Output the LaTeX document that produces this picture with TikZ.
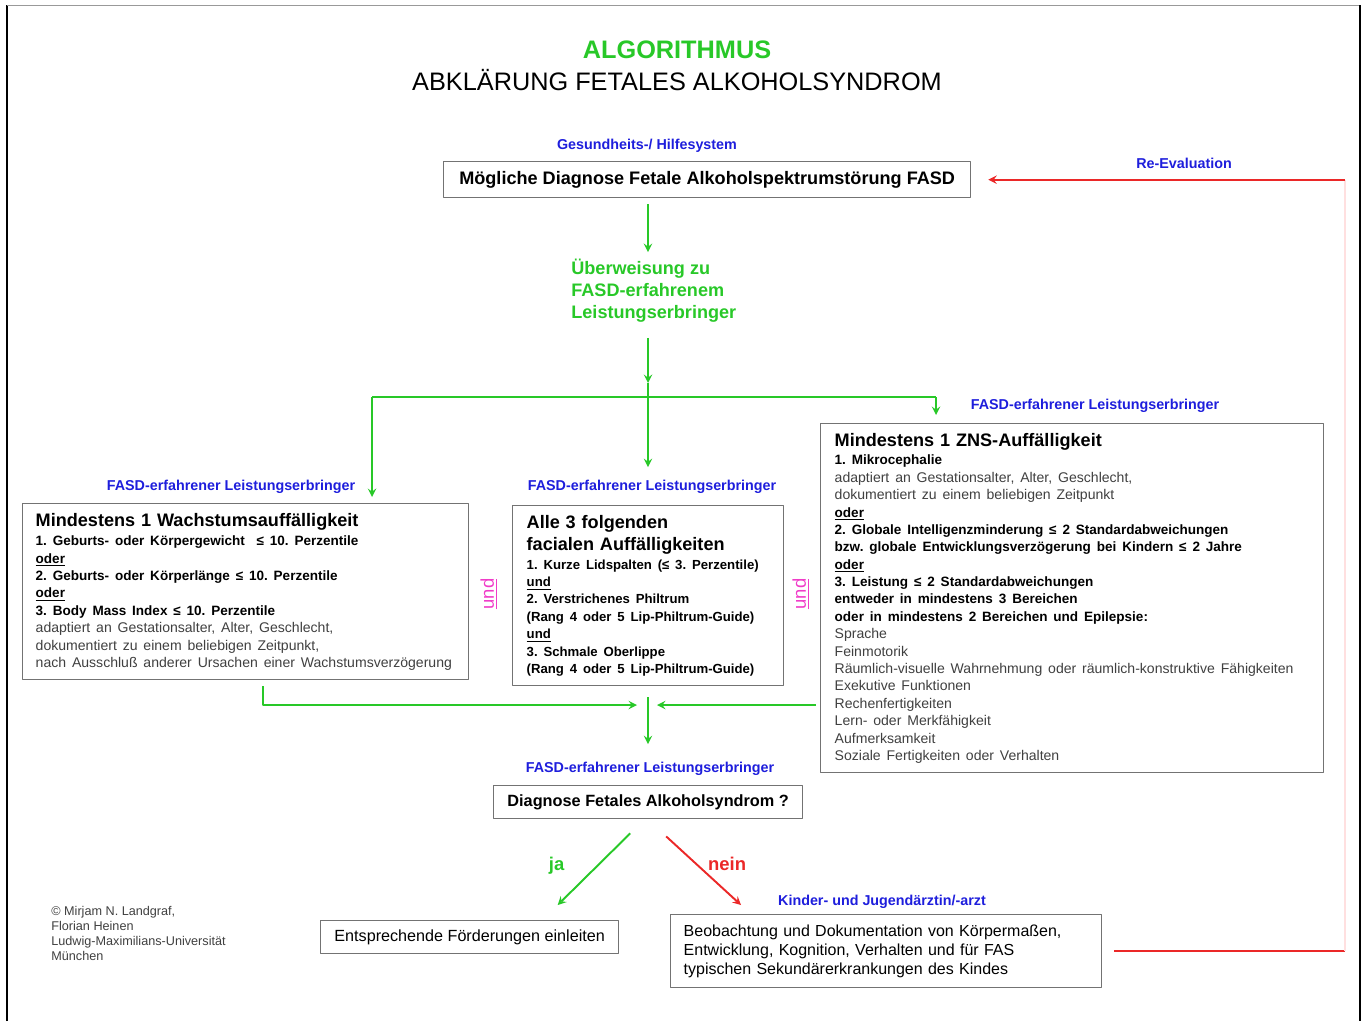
\documentclass[tikz,border=0pt]{standalone}
\usepackage{fontspec}
\setmainfont{Liberation Sans}
\usetikzlibrary{calc}
\definecolor{fgruen}{RGB}{40,200,40}
\definecolor{fblau}{RGB}{30,30,220}
\definecolor{frot}{RGB}{235,40,40}
\definecolor{fmagenta}{RGB}{240,60,200}
\newcommand\kopf{\fontsize{10.3}{12.5}\selectfont\bfseries}
\newcommand\zeile{\fontsize{7.7}{9.9}\selectfont\bfseries}
\newcommand\grau[1]{{\fontsize{8}{9.9}\selectfont\mdseries\color{black!75}#1}}
\begin{document}
\frenchspacing
\begin{tikzpicture}[x=0.02cm,y=-0.02cm,>=stealth,line join=round,
  box/.style={draw=black!55,line width=0.8pt,anchor=north west,inner ysep=0pt},
  blau/.style={text=fblau,font=\fontsize{8.15}{9}\selectfont\bfseries},
  gline/.style={draw=fgruen,line width=1.1pt},
  gpfeil/.style={gline,->},
  rpfeil/.style={draw=frot,line width=1.1pt,->},
  und/.style={text=fmagenta,font=\fontsize{10.5}{12}\selectfont,rotate=90}]
\useasboundingbox (0,0) rectangle (1364,1021);
% Rahmen
\draw[line width=1pt] (7,1021) -- (7,5);
\draw[black!40] (7,5) -- (1360,5);
\draw[line width=1pt] (1360,5) -- (1360,1021);
% Titel
\node[text=fgruen,font=\fontsize{14.4}{16}\selectfont\bfseries] (algo) at (677,50) {ALGORITHMUS};
\node[font=\fontsize{14.4}{16}\selectfont] (abkl) at (677,80) {ABKLÄRUNG FETALES ALKOHOLSYNDROM};
\coordinate (achse) at (648,0);
\coordinate (rand) at (1345,500);
% oben
\node[blau] (gesund) at (647,146) {Gesundheits-/ Hilfesystem};
\node[box,minimum width=10.54cm,minimum height=0.72cm,font=\fontsize{10.3}{12}\selectfont\bfseries] (moeglich) at (443,161) {Mögliche Diagnose Fetale Alkoholspektrumstörung FASD};
\node[blau] (reeval) at (1184,163) {Re-Evaluation};
\node[text=fgruen,font=\kopf,align=left,anchor=west,inner sep=0pt] (ueber) at (571,291) {Überweisung zu\\FASD-erfahrenem\\Leistungserbringer};
\draw[gpfeil,shorten <=0.12cm,shorten >=0.14cm] (moeglich.south -| achse) -- (ueber.north -| achse);
% Verteilung
\coordinate (bus) at (648,397);
\coordinate (busL) at (372,397);
\coordinate (busR) at (936,397);
\draw[gpfeil,shorten <=0.3cm] (ueber.south -| achse) -- ($(bus)+(0,-14)$);
\draw[gline] ($(bus)+(0,-14)$) -- (bus);
\draw[gline] (busL) -- (busR);
% drei Kriterien
\node[blau] (lblL) at (231,487) {FASD-erfahrener Leistungserbringer};
\node[blau] (lblM) at (652,487) {FASD-erfahrener Leistungserbringer};
\node[blau] (lblR) at (1095,406) {FASD-erfahrener Leistungserbringer};
\node[box,inner xsep=0.26cm,text width=8.4cm,minimum height=3.52cm,align=left] (wachstum) at (22,503) {%
{\kopf Mindestens 1 Wachstumsauffälligkeit\par}\vspace{1.3pt}
{\zeile 1. Geburts- oder Körpergewicht\ \ ≤ 10. Perzentile\\
\underline{oder}\\
2. Geburts- oder Körperlänge ≤ 10. Perzentile\\
\underline{oder}\\
3. Body Mass Index ≤ 10. Perzentile\\
\grau{adaptiert an Gestationsalter, Alter, Geschlecht,}\\
\grau{dokumentiert zu einem beliebigen Zeitpunkt,}\\
\grau{nach Ausschluß anderer Ursachen einer Wachstumsverzögerung}\par}};
\node[box,inner xsep=0.28cm,text width=4.86cm,minimum height=3.6cm,align=left] (facial) at (512,505) {%
{\kopf Alle 3 folgenden\\facialen Auffälligkeiten\par}\vspace{0.8pt}
{\zeile\fontsize{7.5}{9.9}\selectfont 1. Kurze Lidspalten (≤ 3. Perzentile)\\
\underline{und}\\
2. Verstrichenes Philtrum\\
(Rang 4 oder 5 Lip-Philtrum-Guide)\\
\underline{und}\\
3. Schmale Oberlippe\\
(Rang 4 oder 5 Lip-Philtrum-Guide)\par}};
\node[box,inner xsep=0.28cm,text width=9.5cm,minimum height=6.98cm,align=left] (zns) at (820,423) {%
{\kopf Mindestens 1 ZNS-Auffälligkeit\par}\vspace{0.8pt}
{\zeile 1. Mikrocephalie\\
\grau{adaptiert an Gestationsalter, Alter, Geschlecht,}\\
\grau{dokumentiert zu einem beliebigen Zeitpunkt}\\
\underline{oder}\\
2. Globale Intelligenzminderung ≤ 2 Standardabweichungen\\
bzw. globale Entwicklungsverzögerung bei Kindern ≤ 2 Jahre\\
\underline{oder}\\
3. Leistung ≤ 2 Standardabweichungen\\
entweder in mindestens 3 Bereichen\\
oder in mindestens 2 Bereichen und Epilepsie:\\
\grau{Sprache}\\
\grau{Feinmotorik}\\
\grau{Räumlich-visuelle Wahrnehmung oder räumlich-konstruktive Fähigkeiten}\\
\grau{Exekutive Funktionen}\\
\grau{Rechenfertigkeiten}\\
\grau{Lern- oder Merkfähigkeit}\\
\grau{Aufmerksamkeit}\\
\grau{Soziale Fertigkeiten oder Verhalten}\par}};
\node[und] (und1) at (489,594) {\underline{und}};
\node[und] (und2) at (801,594) {\underline{und}};
\draw[gpfeil,shorten >=0.12cm] (busL) -- (busL |- wachstum.north);
\draw[gpfeil,shorten >=0.14cm] (bus) -- (bus |- lblM.north);
\draw[gpfeil,shorten >=0.16cm] (busR) -- (busR |- zns.north);
% Zusammenführung
\coordinate (merge) at (648,705);
\node[blau] (lblD) at (650,769) {FASD-erfahrener Leistungserbringer};
\node[box,minimum width=6.18cm,minimum height=0.66cm,font=\fontsize{9.27}{11}\selectfont\bfseries] (diagnose) at (493,785) {Diagnose Fetales Alkoholsyndrom ?};
\draw[gpfeil] ($(wachstum.south west)+(241,6)$) |- ($(merge)+(-11,0)$);
\draw[gpfeil] ($(zns.west |- merge)+(-4,0)$) -- ($(merge)+(9,0)$);
\draw[gpfeil,shorten >=0.24cm] ($(merge)+(0,-8)$) -- (merge |- lblD.north);
% Entscheidung
\node[blau] (kinder) at (882,902) {Kinder- und Jugendärztin/-arzt};
\node[box,minimum width=5.96cm,minimum height=0.66cm,font=\fontsize{9.2}{11}\selectfont] (foerder) at (320,920) {Entsprechende Förderungen einleiten};
\node[box,inner xsep=0.26cm,text width=8.1cm,minimum height=1.46cm,align=left,font=\fontsize{9.1}{11}\selectfont] (beob) at (670,914) {Beobachtung und Dokumentation von Körpermaßen,\\Entwicklung, Kognition, Verhalten und für FAS\\typischen Sekundärerkrankungen des Kindes};
\draw[gpfeil] ($(diagnose.south)+(-18,14)$) -- node[pos=0.45,left=15pt,text=fgruen,font=\fontsize{10.5}{12}\selectfont\bfseries] (ja) {ja} ($(foerder.north)+(88,-15)$);
\draw[rpfeil] ($(diagnose.south)+(18,17)$) -- node[pos=0.4,right=3pt,text=frot,font=\fontsize{10.5}{12}\selectfont\bfseries] (nein) {nein} ($(beob.north west)+(71,-9)$);
% Re-Evaluation
\draw[draw=frot,line width=1.1pt] ($(beob.east)+(12,0)$) -- (rand |- beob.east);
\draw[draw=red!12,line width=1pt] (rand |- beob.east) -- (rand |- moeglich.east);
\draw[rpfeil,shorten >=0.34cm] (rand |- moeglich.east) -- (moeglich.east);
% Autoren
\node[anchor=north west,align=left,inner sep=0pt,text=black!75,font=\fontsize{7.2}{8.5}\selectfont] (autor) at (51,906) {© Mirjam N. Landgraf,\\Florian Heinen\\Ludwig-Maximilians-Universität\\München};
\end{tikzpicture}
\end{document}
